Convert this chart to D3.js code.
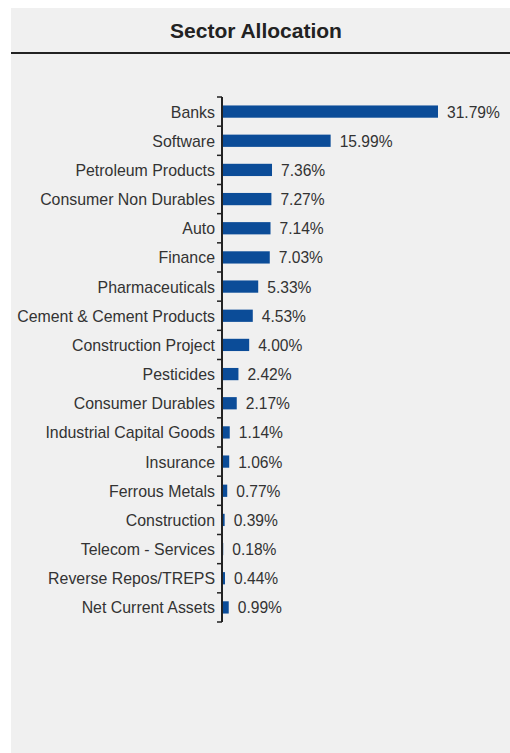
<!DOCTYPE html>
<html>
<head>
<meta charset="utf-8">
<script src="https://cdn.jsdelivr.net/npm/d3@7/dist/d3.min.js"></script>
<style>
  html, body { margin: 0; padding: 0; background: #ffffff; }
  svg { display: block; font-family: "Liberation Sans", Arial, sans-serif; }
</style>
</head>
<body>
<svg id="chart" width="510" height="753"></svg>
<script>
// Sector weights of the portfolio (percent of net assets)
const sectors = [
  "Banks", "Software", "Petroleum Products", "Consumer Non Durables", "Auto",
  "Finance", "Pharmaceuticals", "Cement & Cement Products", "Construction Project",
  "Pesticides", "Consumer Durables", "Industrial Capital Goods", "Insurance",
  "Ferrous Metals", "Construction", "Telecom - Services", "Reverse Repos/TREPS",
  "Net Current Assets"
];
const weights = [
  31.79, 15.99, 7.36, 7.27, 7.14, 7.03, 5.33, 4.53, 4.00,
  2.42, 2.17, 1.14, 1.06, 0.77, 0.39, 0.18, 0.44, 0.99
];
const title = "Sector Allocation";

const data = sectors.map((s, i) => ({ sector: s, value: weights[i] }));

const svg = d3.select("#chart");

// panel background and header
svg.append("rect")
  .attr("x", 11).attr("y", 8)
  .attr("width", 499).attr("height", 745)
  .attr("fill", "#f0f0f0");

svg.append("text")
  .attr("x", 256).attr("y", 38)
  .attr("text-anchor", "middle")
  .attr("font-size", 21)
  .attr("font-weight", "bold")
  .attr("fill", "#222")
  .text(title);

svg.append("line")
  .attr("x1", 11).attr("x2", 510)
  .attr("y1", 53).attr("y2", 53)
  .attr("stroke", "#222").attr("stroke-width", 2);

// plot area
const x0 = 222, plotTop = 97, plotBottom = 622;
const x = d3.scaleLinear().domain([0, 31.79]).range([x0, 438]);
const y = d3.scaleBand()
  .domain(sectors)
  .range([plotTop, plotBottom])
  .paddingInner(0.58)
  .paddingOuter(0.29);

const g = svg.append("g");

g.selectAll("rect.bar")
  .data(data)
  .join("rect")
  .attr("class", "bar")
  .attr("x", x0)
  .attr("y", d => y(d.sector))
  .attr("width", d => x(d.value) - x0)
  .attr("height", y.bandwidth())
  .attr("fill", "#0b4c98");

g.selectAll("text.val")
  .data(data)
  .join("text")
  .attr("class", "val")
  .attr("x", d => x(d.value) + 9)
  .attr("y", d => y(d.sector) + y.bandwidth() / 2 + 0.5)
  .attr("dy", "0.35em")
  .attr("font-size", 15.6)
  .attr("fill", "#333")
  .text(d => d.value.toFixed(2) + "%");

// category axis with ticks on the band boundaries
const boundaries = d3.range(sectors.length + 1)
  .map(i => plotTop + i * (plotBottom - plotTop) / sectors.length);

const axis = svg.append("g");
axis.append("line")
  .attr("x1", x0).attr("x2", x0)
  .attr("y1", plotTop).attr("y2", plotBottom)
  .attr("stroke", "#222").attr("stroke-width", 2);
axis.selectAll("line.tick")
  .data(boundaries)
  .join("line")
  .attr("class", "tick")
  .attr("x1", x0 - 5).attr("x2", x0)
  .attr("y1", d => d).attr("y2", d => d)
  .attr("stroke", "#222").attr("stroke-width", 1.5);

axis.selectAll("text.cat")
  .data(sectors)
  .join("text")
  .attr("class", "cat")
  .attr("x", 215)
  .attr("y", d => y(d) + y.bandwidth() / 2 + 0.5)
  .attr("dy", "0.35em")
  .attr("text-anchor", "end")
  .attr("font-size", 15.9)
  .attr("fill", "#333")
  .text(d => d);
</script>
</body>
</html>
